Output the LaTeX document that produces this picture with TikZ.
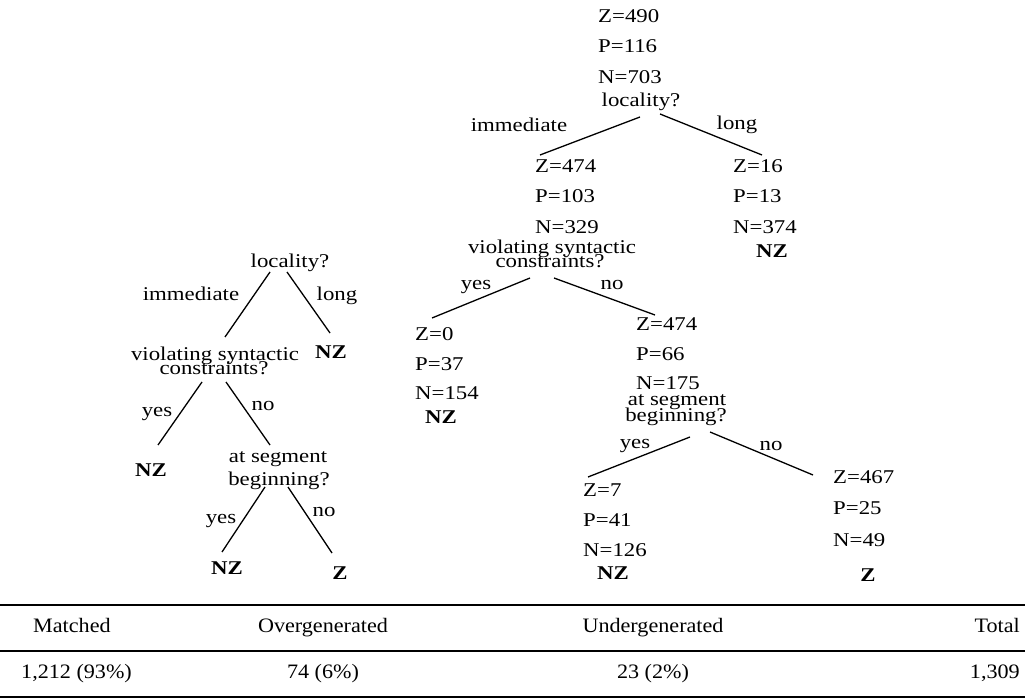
\documentclass[tikz,border=0pt]{standalone}
\usepackage{fontspec}
\setmainfont{Liberation Serif}
\newfontfamily\treefont[FakeStretch=1.17]{Liberation Serif}
\newfontfamily\tabfont[FakeStretch=1.08]{Liberation Serif}
\tikzset{
  tx/.style={font=\treefont\fontsize{19.5}{19.5}\selectfont, inner sep=0pt, anchor=base west},
  tq/.style={font=\treefont\fontsize{19.5}{19.5}\selectfont, inner sep=0pt, anchor=base},
  leaf/.style={font=\treefont\bfseries\fontsize{19.5}{19.5}\selectfont, inner sep=0pt, anchor=base},
  branch/.style={line width=1.3pt},
  tb/.style={font=\tabfont\fontsize{20.5}{20.5}\selectfont, inner sep=0pt},
  rule/.style={line width=1.4pt}
}
\begin{document}
\begin{tikzpicture}[x=1pt,y=-1pt]
\useasboundingbox (0,0) rectangle (1031,700);
% ---------------- big tree ----------------
\node[tx] (rZ) at (598,23) {Z=490};
\node[tx] (rP) at (598,53) {P=116};
\node[tx] (rN) at (598,84) {N=703};
\node[tq] (rq) at (641,107) {locality?};
\node[tq] (rimm) at (519,132) {immediate};
\node[tq] (rlong) at (737,130) {long};

\node[tx] (aZ) at (535,173) {Z=474};
\node[tx] (aP) at (535,203) {P=103};
\node[tx] (aN) at (535,234) {N=329};
\node[tq] (aq1) at (552,254) {violating syntactic};
\node[tq] (aq2) at (550,268) {constraints?};

\node[tx] (bZ) at (733,173) {Z=16};
\node[tx] (bP) at (733,203) {P=13};
\node[tx] (bN) at (733,234) {N=374};
\node[leaf] (bL) at (772,258) {NZ};

\node[tq] (ayes) at (476,290) {yes};
\node[tq] (ano) at (612,290) {no};

\node[tx] (cZ) at (415,341) {Z=0};
\node[tx] (cP) at (415,371) {P=37};
\node[tx] (cN) at (415,400) {N=154};
\node[leaf] (cL) at (441,424) {NZ};

\node[tx] (dZ) at (636,331) {Z=474};
\node[tx] (dP) at (636,361) {P=66};
\node[tx] (dN) at (636,390) {N=175};
\node[tq] (dq1) at (677,406) {at segment};
\node[tq] (dq2) at (676,421) {beginning?};

\node[tq] (dyes) at (635,449) {yes};
\node[tq] (dno) at (771,450) {no};

\node[tx] (eZ) at (583,496) {Z=7};
\node[tx] (eP) at (583,526) {P=41};
\node[tx] (eN) at (583,556) {N=126};
\node[leaf] (eL) at (613,579) {NZ};

\node[tx] (fZ) at (833,483) {Z=467};
\node[tx] (fP) at (833,514) {P=25};
\node[tx] (fN) at (833,546) {N=49};
\node[leaf] (fL) at (868,581) {Z};

\coordinate (r1) at (640,117); \coordinate (a0) at (540,155);
\coordinate (r2) at (660,114); \coordinate (b0) at (762,155);
\coordinate (a1) at (530,278); \coordinate (c0) at (432,318);
\coordinate (a2) at (554,278); \coordinate (d0) at (655,315);
\coordinate (d1) at (690,437); \coordinate (e0) at (588,477);
\coordinate (d2) at (710,432); \coordinate (f0) at (813,475);
\draw[branch] (r1) -- (a0);
\draw[branch] (r2) -- (b0);
\draw[branch] (a1) -- (c0);
\draw[branch] (a2) -- (d0);
\draw[branch] (d1) -- (e0);
\draw[branch] (d2) -- (f0);

% ---------------- small tree ----------------
\node[tq] (sq) at (290,268) {locality?};
\node[tq] (simm) at (191,301) {immediate};
\node[tq] (slong) at (337,301) {long};
\node[tq] (sv1) at (215,361) {violating syntactic};
\node[tq] (sv2) at (214,375) {constraints?};
\node[leaf] (sNZa) at (331,359) {NZ};
\node[tq] (syes1) at (157,417) {yes};
\node[tq] (sno1) at (263,410) {no};
\node[leaf] (sNZb) at (151,476) {NZ};
\node[tq] (ss1) at (278,462) {at segment};
\node[tq] (ss2) at (279,485) {beginning?};
\node[tq] (syes2) at (221,523) {yes};
\node[tq] (sno2) at (324,516) {no};
\node[leaf] (sNZc) at (227,574) {NZ};
\node[leaf] (sZ) at (340,579) {Z};

\coordinate (s1) at (270,272); \coordinate (s1e) at (225,337);
\coordinate (s2) at (287,272); \coordinate (s2e) at (330,333);
\coordinate (s3) at (202,382); \coordinate (s3e) at (158,445);
\coordinate (s4) at (226,382); \coordinate (s4e) at (270,445);
\coordinate (s5) at (265,487); \coordinate (s5e) at (222,552);
\coordinate (s6) at (288,487); \coordinate (s6e) at (332,553);
\draw[branch] (s1) -- (s1e);
\draw[branch] (s2) -- (s2e);
\draw[branch] (s3) -- (s3e);
\draw[branch] (s4) -- (s4e);
\draw[branch] (s5) -- (s5e);
\draw[branch] (s6) -- (s6e);

% ---------------- table ----------------
\coordinate (t0l) at (0,605);   \coordinate (t0r) at (1025,605);
\coordinate (t1l) at (0,651);   \coordinate (t1r) at (1025,651);
\coordinate (t2l) at (0,697);   \coordinate (t2r) at (1025,697);
\draw[rule] (t0l) -- (t0r);
\draw[rule] (t1l) -- (t1r);
\draw[rule] (t2l) -- (t2r);
\node[tb, anchor=base west] (h1) at (33,632) {Matched};
\node[tb, anchor=base] (h2) at (323,632) {Overgenerated};
\node[tb, anchor=base] (h3) at (653,632) {Undergenerated};
\node[tb, anchor=base east] (h4) at (1020,632) {Total};
\node[tb, anchor=base west] (v1) at (21,678) {1,212 (93\%)};
\node[tb, anchor=base] (v2) at (323,678) {74 (6\%)};
\node[tb, anchor=base] (v3) at (653,678) {23 (2\%)};
\node[tb, anchor=base east] (v4) at (1020,678) {1,309};
\end{tikzpicture}
\end{document}
